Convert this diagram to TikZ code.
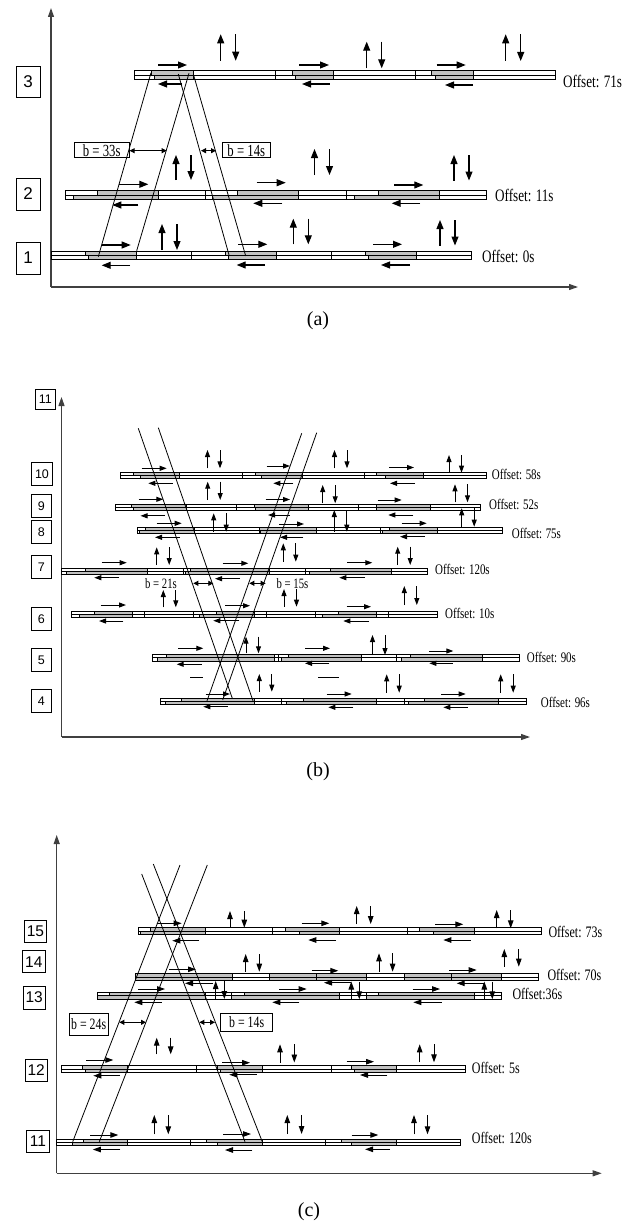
\documentclass[tikz,border=0pt]{standalone}
\usepackage{fontspec}
\setmainfont{Liberation Serif}
\newfontfamily\condserif[FakeStretch=0.75]{Liberation Serif}
\newfontfamily\labsans{Liberation Sans}
\usetikzlibrary{arrows.meta}

\tikzset{
  barline/.style={line width=0.85pt},
  greenband/.style={fill=black!24},
  axisline/.style={line width=1.1pt, black!75, -{Triangle[length=9pt,width=6pt]}},
  flowA/.style={line width=1.1pt, -{Triangle[length=9pt,width=7pt]}},
  flowB/.style={line width=0.95pt, -{Triangle[length=7pt,width=5pt]}},
  flowC/.style={line width=0.95pt, -{Triangle[length=8pt,width=5.5pt]}},
  bandline/.style={line width=0.8pt},
  bwidth/.style={line width=0.8pt, {Triangle[length=5pt,width=5pt]}-{Triangle[length=5pt,width=5pt]}},
  intbox/.style={draw, line width=0.9pt, inner sep=0pt},
  offs/.style={anchor=west, inner sep=0pt},
  bbox/.style={draw, line width=0.8pt, inner sep=0pt},
}

% two-lane arterial strip: #1 y, #2 x start, #3 x end, #4 lane height,
% #5 green spans of the upper lane, #6 green spans of the lower lane, #7 intersection ticks
\newcommand\roadbar[7]{%
  \foreach \a/\b in {#5} {\fill[greenband] (\a,#1-#4) rectangle (\b,#1);}
  \foreach \a/\b in {#6} {\fill[greenband] (\a,#1) rectangle (\b,#1+#4);}
  \foreach \a/\b in {#5} {\draw[barline] (\a,#1-#4) -- (\a,#1);}
  \foreach \a/\b in {#6} {\draw[barline] (\a,#1) -- (\a,#1+#4);}
  \draw[barline] (#2,#1-#4) rectangle (#3,#1+#4);
  \draw[barline] (#2,#1) -- (#3,#1);
  \foreach \t in {#7} {\draw[barline] (\t,#1-#4) -- (\t,#1+#4);}
}
% pair of side-street arrows: #1 x, #2 top, #3 bottom, #4 spacing, #5 style
\newcommand\updown[5]{%
  \draw[#5] (#1,#3) -- (#1,#2);
  \draw[#5] ({#1+#4},#2) -- ({#1+#4},#3);
}

\begin{document}
\begin{tikzpicture}[x=1pt,y=-1pt]
\useasboundingbox (0,0) rectangle (632,1223);

%================ (a) ================
\coordinate (Oa) at (51,287);
\coordinate (Ya) at (51,8);
\coordinate (Xa) at (578,287);
\draw[axisline] (Oa) -- (Ya);
\draw[axisline] (Oa) -- (Xa);

\roadbar{75}{134.3}{555.7}{4.4}{151/193.3, 292.3/333.3, 431.7/473.3}{154.3/193.3, 295/333.3, 435/473.3}{193.3, 275, 333.3, 415, 473.3}
\roadbar{195.3}{65}{486}{4.4}{97.3/158.3, 237.7/298.3, 378.3/439}{73.3/158.3, 212.3/298.3, 354.3/439}{158.3, 205.7, 298.3, 346, 439}
\roadbar{255.5}{51.7}{471.7}{4.4}{85.7/136.7, 225.7/276, 365.7/416.7}{88.3/136.7, 228.3/276, 368.3/416.7}{136.7, 191, 276, 331.7, 416.7}

% bar 3 arrows
\draw[flowA] (158,65) -- (187,65);
\draw[flowA] (182,84) -- (158,84);
\updown{220.7}{34.3}{60.7}{15}{flowA}
\draw[flowA] (299,65) -- (329,65);
\draw[flowA] (329.5,84) -- (302,84);
\updown{366.7}{41.7}{68.3}{15}{flowA}
\draw[flowA] (436.7,65) -- (465.7,65);
\draw[flowA] (473,85) -- (445,85);
\updown{505.7}{34.3}{61}{15}{flowA}
% bar 2 arrows
\draw[flowA] (119,184.3) -- (148.3,184.3);
\draw[flowA] (138.3,205) -- (112.3,205);
\updown{176}{155}{180}{15}{flowA}
\draw[flowA] (256.7,182.7) -- (285.7,182.7);
\draw[flowA] (282.3,203.3) -- (253.3,203.3);
\updown{314.5}{149}{175}{15}{flowA}
\draw[flowA] (394.3,185) -- (423.3,185);
\draw[flowA] (420,203.3) -- (391.7,203.3);
\updown{454}{155}{180.5}{15}{flowA}
% bar 1 arrows
\draw[flowA] (101.7,245) -- (130.7,245);
\draw[flowA] (130,265.3) -- (101.7,265.3);
\updown{162}{224}{250}{15}{flowA}
\draw[flowA] (238.3,244.3) -- (267.3,244.3);
\draw[flowA] (265,265) -- (236.7,265);
\updown{293.3}{218.7}{244.3}{15}{flowA}
\draw[flowA] (373,244.3) -- (402,244.3);
\draw[flowA] (410,265) -- (381,265);
\updown{440}{220}{245.5}{15}{flowA}

% green bands
\draw[bandline] (98.3,256.7) -- (151,72.7);
\draw[bandline] (136.7,250.7) -- (189,73.3);
\draw[bandline] (178.3,74) -- (229.3,256);
\draw[bandline] (193.3,74) -- (245.7,256);

\node[bbox, minimum width=55pt, minimum height=15pt, font=\condserif\fontsize{17}{18}\selectfont] (bwa1) at (101.7,150.2) {b = 33s};
\draw[bwidth] (bwa1.east |- 0,150.7) -- (166.7,150.7);
\node[bbox, minimum width=47.3pt, minimum height=15pt, font=\condserif\fontsize{17}{18}\selectfont] (bwa2) at (246.3,150.2) {b = 14s};
\draw[bwidth] (201,150.7) -- (216,150.7);

\node[intbox, minimum width=24pt, minimum height=31pt, font=\labsans\fontsize{17}{18}\selectfont] (ia3) at (28,81.5) {3};
\node[intbox, minimum width=24pt, minimum height=32pt, font=\labsans\fontsize{17}{18}\selectfont] (ia2) at (28,194) {2};
\node[intbox, minimum width=24pt, minimum height=32pt, font=\labsans\fontsize{17}{18}\selectfont] (ia1) at (28,258) {1};

\node[offs, font=\condserif\fontsize{17.5}{18}\selectfont] (oa3) at (563,81) {Offset: 71s};
\node[offs, font=\condserif\fontsize{17.5}{18}\selectfont] (oa2) at (495,195.5) {Offset: 11s};
\node[offs, font=\condserif\fontsize{17.5}{18}\selectfont] (oa1) at (482,256) {Offset: 0s};

\node[font=\fontsize{20}{22}\selectfont] (capa) at (318,321) {(a)};

%================ (b) ================
\coordinate (Ob) at (61.5,737);
\coordinate (Yb) at (61.5,397);
\coordinate (Xb) at (530,737);
\draw[axisline] (Ob) -- (Yb);
\draw[axisline] (Ob) -- (Xb);

\roadbar{475.3}{120}{486}{3.2}{133.3/179.3, 255/302.3, 376.7/423.3}{140/179.3, 261.7/302.3, 385/423.3}{179.3, 242.3, 302.3, 364.3, 423.3}
\roadbar{507.3}{115}{480.7}{3.2}{131.7/186, 254/308.3, 376/430}{133.3/186, 255/308.3, 376.7/430}{186, 236, 308.3, 358.3, 430}
\roadbar{530.7}{137.3}{502.7}{3.2}{145.7/194.3, 259.3/316, 389.3/437.7}{139/194.3, 260/316, 382/437.7}{194.3, 259.3, 316, 380.7, 437.7}
\roadbar{571.2}{61.7}{427.3}{3.2}{85/147.3, 190/269.3, 330/391}{66/147.3, 185/269.3, 309.3/391}{147.3, 183.3, 269.3, 305, 391}
\roadbar{614.2}{71.7}{437.3}{3.2}{94/132.7, 216/254, 338.3/376.7}{79/132.7, 199.3/254, 322.7/376.7}{132.7, 144.3, 193.3, 254, 266.7, 315, 376.7, 388.3}
\roadbar{657.8}{152.7}{519}{3.2}{166/274.3, 288.3/361, 410/482.7}{157.3/274.3, 281/361, 401/482.7}{274.3, 278.3, 361, 396.7, 482.7}
\roadbar{701.3}{160}{526.7}{3.2}{181/254, 303.3/376, 424.3/498.3}{165.7/254, 286/376, 408.3/498.3}{254, 281.7, 376, 404.3, 498.3}

% bar 10
\draw[flowB] (141.7,468.3) -- (166.7,468.3);
\draw[flowB] (172.7,483.3) -- (148.3,483.3);
\updown{207.5}{450}{468.3}{12.5}{flowB}
\draw[flowB] (266.7,466) -- (290,466);
\draw[flowB] (293.3,483.3) -- (273.3,483.3);
\updown{334.5}{450}{468.3}{12.5}{flowB}
\draw[flowB] (389.3,467.5) -- (414,467.5);
\draw[flowB] (415,483.3) -- (390,483.3);
\updown{449}{455}{472.7}{12.5}{flowB}
% bar 9
\draw[flowB] (138.5,499.3) -- (163.3,499.3);
\draw[flowB] (165,515.8) -- (140.5,515.8);
\updown{207.7}{481.7}{500}{12.5}{flowB}
\draw[flowB] (265.5,499.5) -- (290,499.5);
\draw[flowB] (290,515) -- (268,515);
\updown{322.7}{485}{503.3}{12.5}{flowB}
\draw[flowB] (377.7,500) -- (401.7,500);
\draw[flowB] (413.3,515) -- (388.3,515);
\updown{455}{484.3}{502.3}{12.5}{flowB}
% bar 8
\draw[flowB] (156.7,523.3) -- (181.7,523.3);
\draw[flowB] (180,537.3) -- (155,537.3);
\updown{213.7}{513.3}{531.7}{12.5}{flowB}
\draw[flowB] (279,524) -- (304,524);
\draw[flowB] (303.3,537.3) -- (280,537.3);
\updown{334.3}{510}{531.7}{12.5}{flowB}
\draw[flowB] (401.7,523.3) -- (426.7,523.3);
\draw[flowB] (425,536.7) -- (400,536.7);
\updown{461.7}{508.3}{526.7}{12.5}{flowB}
% bar 7
\draw[flowB] (101.7,562.7) -- (126.7,562.7);
\draw[flowB] (119,577.7) -- (94.3,577.7);
\updown{156.7}{547.3}{565}{12.5}{flowB}
\draw[flowB] (222.7,563.3) -- (248.3,563.3);
\draw[flowB] (240,578.7) -- (215,578.7);
\updown{283.3}{543.3}{561.7}{12.5}{flowB}
\draw[flowB] (347.3,562.7) -- (372.3,562.7);
\draw[flowB] (365,577.7) -- (339.3,577.7);
\updown{397.7}{546.7}{565}{12.5}{flowB}
% bar 6
\draw[flowB] (100.7,605) -- (126,605);
\draw[flowB] (123.3,621) -- (99,621);
\updown{163.3}{590}{607.3}{12.5}{flowB}
\draw[flowB] (225,605.7) -- (250,605.7);
\draw[flowB] (239.3,620.7) -- (213.3,620.7);
\updown{284}{589}{606.7}{12.5}{flowB}
\draw[flowB] (346.7,606.7) -- (371,606.7);
\draw[flowB] (369,621) -- (343.3,621);
\updown{404.3}{586}{605}{12.5}{flowB}
% bar 5
\draw[flowB] (178.3,648.3) -- (203.3,648.3);
\draw[flowB] (201.7,664.3) -- (176.7,664.3);
\updown{246}{636.7}{653.3}{12.5}{flowB}
\draw[flowB] (305,648.3) -- (330,648.3);
\draw[flowB] (329.3,663.3) -- (305,663.3);
\updown{372.5}{635}{655}{12.5}{flowB}
\draw[flowB] (429.3,651) -- (453.3,651);
\draw[flowB] (452.7,663.3) -- (429.3,663.3);
% bar 4
\draw[barline] (190,677.8) -- (202.7,677.8);
\draw[barline] (318.3,677.8) -- (339.3,677.8);
\draw[flowB] (205.7,694) -- (230,694);
\draw[flowB] (227.7,706.7) -- (203.3,706.7);
\updown{259.3}{674}{691.7}{12.5}{flowB}
\draw[flowB] (326.7,694) -- (351.7,694);
\draw[flowB] (353.3,707.3) -- (328.3,707.3);
\updown{386.7}{674.3}{692.7}{12.5}{flowB}
\draw[flowB] (441,694) -- (465.7,694);
\draw[flowB] (467.7,707.3) -- (443.3,707.3);
\updown{500.7}{674.3}{692.7}{12.5}{flowB}

% green bands
\draw[bandline] (138.3,428.3) -- (232.3,698.3);
\draw[bandline] (158.3,427.7) -- (253.3,701.7);
\draw[bandline] (301.7,433.3) -- (206.7,701.7);
\draw[bandline] (316.7,432.7) -- (222.7,700);

\node[font=\condserif\fontsize{14.3}{16}\selectfont, inner sep=0pt] (bwb1) at (161,583.3) {b = 21s};
\draw[bwidth] (193.3,583.3) -- (213.3,583.3);
\node[font=\condserif\fontsize{14.3}{16}\selectfont, inner sep=0pt] (bwb2) at (292.5,583.3) {b = 15s};
\draw[bwidth] (249.3,583.3) -- (265.7,583.3);

\tikzset{intb/.style={intbox, minimum width=20.7pt, minimum height=23pt, font=\labsans\fontsize{12.5}{14}\selectfont}}
\node[intb, minimum height=20pt] (ib11) at (45.3,399.5) {11};
\node[intb] (ib10) at (42,473.7) {10};
\node[intb] (ib9) at (41.3,505.7) {9};
\node[intb] (ib8) at (41.3,531.7) {8};
\node[intb] (ib7) at (41.3,566.7) {7};
\node[intb] (ib6) at (41.3,619) {6};
\node[intb] (ib5) at (41.3,660) {5};
\node[intb] (ib4) at (41.3,700.8) {4};

\tikzset{offb/.style={offs, font=\condserif\fontsize{14.6}{16}\selectfont}}
\node[offb] (ob10) at (491.7,474) {Offset: 58s};
\node[offb] (ob9) at (489,504) {Offset: 52s};
\node[offb] (ob8) at (511.7,533) {Offset: 75s};
\node[offb] (ob7) at (435,569.5) {Offset: 120s};
\node[offb] (ob6) at (445,613) {Offset: 10s};
\node[offb] (ob5) at (526.7,657) {Offset: 90s};
\node[offb] (ob4) at (540.7,702) {Offset: 96s};

\node[font=\fontsize{20}{22}\selectfont] (capb) at (318,772) {(b)};

%================ (c) ================
\coordinate (Oc) at (56.7,1173.3);
\coordinate (Yc) at (56.7,835);
\coordinate (Xc) at (601.7,1173.3);
\draw[axisline] (Oc) -- (Yc);
\draw[axisline] (Oc) -- (Xc);

\roadbar{931}{138.3}{541.7}{3.3}{150.7/205, 285/339.3, 419.3/474.3}{140/205, 299.3/339.3, 433.3/474.3}{205, 272.3, 339.3, 407.3, 474.3}
\roadbar{977}{135}{538.3}{3.3}{135/232.3, 269.3/366.7, 404/501.7}{135/232.3, 269.3/366.7, 404/501.7}{232.3, 269.3, 316.7, 366.7, 404, 451.7, 501.7}
\roadbar{995.7}{97.3}{501}{3.3}{109.3/205.7, 244/339.3, 378.3/474.3}{97.3/205.7, 231.7/339.3, 366/474.3}{205.7, 231.7, 339.3, 366, 474.3}
\roadbar{1069}{61.7}{465.7}{3.3}{82.7/127.7, 217/262.3, 351.7/396.7}{85.7/127.7, 220/262.3, 354.7/396.7}{127.7, 196.7, 262.3, 331, 396.7}
\roadbar{1142.5}{56.7}{460}{3.3}{83.3/127.7, 206.7/262.3, 341.7/396.7}{72.7/127.7, 217.7/262.3, 351.7/396.7}{127.7, 190.7, 262.3, 325.7, 396.7}

% bar 15
\draw[flowC] (156.7,923.3) -- (181.7,923.3);
\draw[flowC] (199,940.7) -- (172.3,940.7);
\updown{230}{911}{927.7}{14.3}{flowC}
\draw[flowC] (301.7,923.3) -- (329.3,923.3);
\draw[flowC] (336,940) -- (308.3,940);
\updown{356.7}{906}{924}{14}{flowC}
\draw[flowC] (435,924.3) -- (463.3,924.3);
\draw[flowC] (470.7,940) -- (443.3,940);
\updown{496.7}{910}{928.3}{14}{flowC}
% bar 14
\draw[flowC] (169.3,969.3) -- (196,969.3);
\draw[flowC] (213.3,983.3) -- (185,983.3);
\updown{245.7}{954}{971.7}{13.6}{flowC}
\draw[flowC] (311.7,970.7) -- (338.3,970.7);
\draw[flowC] (350.7,982.7) -- (324,982.7);
\updown{379}{953.3}{971.7}{13.6}{flowC}
\draw[flowC] (449,970) -- (476.7,970);
\draw[flowC] (484.3,983.3) -- (456.7,983.3);
\updown{504.3}{949}{966.7}{14.5}{flowC}
% bar 13
\draw[flowC] (138.3,989) -- (165,989);
\draw[flowC] (161.7,1002.3) -- (134.3,1002.3);
\updown{215.7}{981}{999}{8.6}{flowC}
\draw[flowC] (279.3,989) -- (306.7,989);
\draw[flowC] (299.3,1002.3) -- (272.3,1002.3);
\updown{351.3}{981.5}{999.3}{8}{flowC}
\draw[flowC] (412.7,989) -- (440,989);
\draw[flowC] (441.7,1002.3) -- (413.3,1002.3);
\updown{484.3}{981.5}{999.3}{8}{flowC}
% bar 12
\draw[flowC] (86,1060) -- (113.3,1060);
\draw[flowC] (120,1075.7) -- (93.3,1075.7);
\updown{156.7}{1037.7}{1054.3}{14}{flowC}
\draw[flowC] (222.3,1062.7) -- (250,1062.7);
\draw[flowC] (256.7,1074.7) -- (229.3,1074.7);
\updown{280}{1044.3}{1062.5}{14.3}{flowC}
\draw[flowC] (346.7,1061.7) -- (374,1061.7);
\draw[flowC] (387.3,1075) -- (360,1075);
\updown{419.7}{1044.3}{1062.3}{14.3}{flowC}
% bar 11
\draw[flowC] (90.3,1135) -- (118.3,1135);
\draw[flowC] (120.3,1149.5) -- (92.8,1149.5);
\updown{154.3}{1115}{1134.3}{14}{flowC}
\draw[flowC] (223.3,1134) -- (251,1134);
\draw[flowC] (252.3,1150) -- (225,1150);
\updown{287.3}{1115}{1134}{14.3}{flowC}
\draw[flowC] (351.7,1135) -- (378.3,1135);
\draw[flowC] (390,1149.3) -- (365,1149.3);
\updown{414}{1115}{1134.3}{13.5}{flowC}

% green bands
\draw[bandline] (72.7,1141.7) -- (180,865);
\draw[bandline] (99.3,1141.7) -- (207.3,865);
\draw[bandline] (141.7,874) -- (245,1141.7);
\draw[bandline] (153.3,864) -- (262.3,1141.7);

\node[bbox, minimum width=39.3pt, minimum height=21.7pt, font=\condserif\fontsize{15.8}{17}\selectfont] (bwc1) at (88.7,1024.2) {b = 24s};
\draw[bwidth] (119.3,1022.3) -- (146,1022.3);
\node[bbox, minimum width=52pt, minimum height=18.3pt, font=\condserif\fontsize{15.8}{17}\selectfont] (bwc2) at (246.7,1022.5) {b = 14s};
\draw[bwidth] (199.3,1022.3) -- (215,1022.3);

\tikzset{intc/.style={intbox, minimum width=22.3pt, minimum height=22pt, font=\labsans\fontsize{15.5}{17}\selectfont}}
\node[intc] (ic15) at (35.5,931.7) {15};
\node[intc] (ic14) at (33.8,961.7) {14};
\node[intc, minimum height=23pt] (ic13) at (34.2,997.5) {13};
\node[intc] (ic12) at (36.2,1070.5) {12};
\node[intc] (ic11) at (38,1141.2) {11};

\tikzset{offc/.style={offs, font=\condserif\fontsize{16}{17}\selectfont}}
\node[offc] (oc15) at (548.3,932.3) {Offset: 73s};
\node[offc] (oc14) at (547.3,975) {Offset: 70s};
\node[offc] (oc13) at (512.3,994.3) {Offset:36s};
\node[offc] (oc12) at (471.7,1067.7) {Offset: 5s};
\node[offc] (oc11) at (471.7,1138.3) {Offset: 120s};

\node[font=\fontsize{20}{22}\selectfont] (capc) at (309,1212) {(c)};
\end{tikzpicture}
\end{document}
